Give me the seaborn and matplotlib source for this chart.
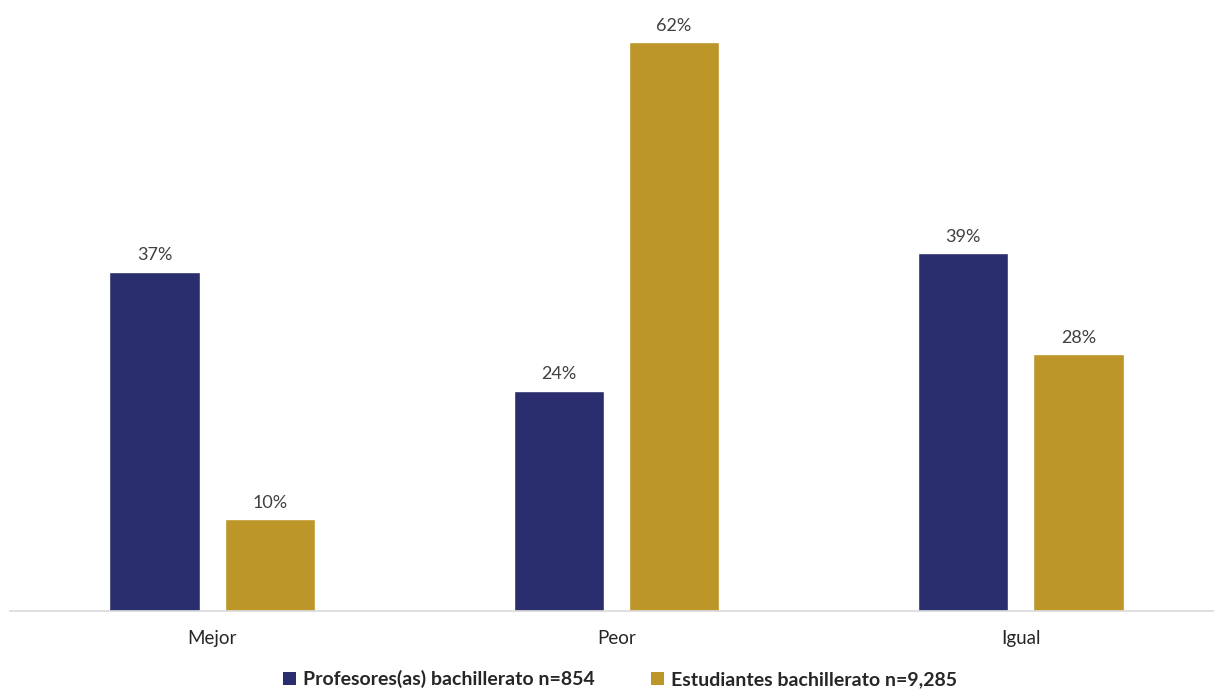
import matplotlib
matplotlib.use("Agg")
import matplotlib.pyplot as plt
from matplotlib.patches import Patch
import seaborn as sns
import pandas as pd

categories = ["Mejor", "Peor", "Igual"]
series_names = ["Profesores(as) bachillerato n=854", "Estudiantes bachillerato n=9,285"]
profesores = [37, 24, 39]
estudiantes = [10, 62, 28]
colors = ["#2B2E6E", "#BD962A"]

df = pd.DataFrame({
    "categoria": categories * 2,
    "serie": [series_names[0]] * 3 + [series_names[1]] * 3,
    "valor": profesores + estudiantes,
})

sns.set_theme(style="white")
plt.rcParams["font.family"] = ["Lato", "DejaVu Sans"]

W, H = 1214, 691
fig = plt.figure(figsize=(W / 100, H / 100), dpi=100)
ax = fig.add_axes([10 / W, 1 - 611 / H, 1 - 10 / W, 611 / H])

sns.barplot(data=df, x="categoria", y="valor", hue="serie", order=categories,
            hue_order=series_names, palette=colors, width=0.57, gap=0.216,
            saturation=1, legend=False, ax=ax)

for cont in ax.containers:
    ax.bar_label(cont, labels=[f"{v:.0f}%" for v in cont.datavalues],
                 padding=6, fontsize=13, color="#404040")

ax.set_xlim(-0.5, 2.478)
ax.set_ylim(0, 66.6)
ax.set_xlabel("")
ax.set_ylabel("")
ax.set_yticks([])
ax.tick_params(axis="x", length=0, pad=14, labelsize=13.5, labelcolor="#262626")
for s in ["top", "right", "left"]:
    ax.spines[s].set_visible(False)
ax.spines["bottom"].set_color("#D9D9D9")
ax.spines["bottom"].set_linewidth(1.2)

handles = [Patch(facecolor=c, edgecolor="none") for c in colors]
fig.legend(handles, series_names, loc="center", bbox_to_anchor=(620 / W, 1 - 679 / H),
           ncol=2, frameon=False, prop={"weight": "bold", "size": 14},
           handlelength=0.65, handleheight=0.65, handletextpad=0.35, columnspacing=2.9,
           labelcolor="#262626")

fig.savefig("out.png", dpi=100)
